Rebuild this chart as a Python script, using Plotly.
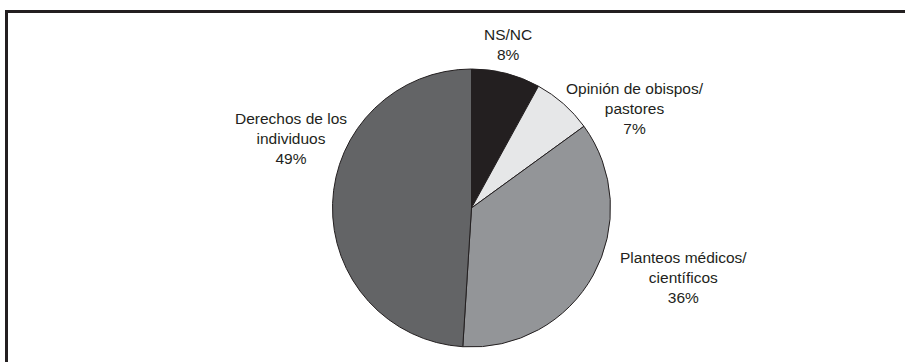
import plotly.graph_objects as go

# Survey shares, clockwise from 12 o'clock
categories = ["NS/NC", "Opinión de obispos/<br>pastores",
              "Planteos médicos/<br>científicos", "Derechos de los<br>individuos"]
values = [8, 7, 36, 49]
colors = ["#231f20", "#e6e7e8", "#939598", "#636466"]

# Label block centers (pixels in the 905x362 canvas)
label_x = [508, 635, 683.5, 291]
label_y = [44.5, 108, 277, 138]

W, H = 905, 362
cx, cy, r = 471.5, 208, 139

fig = go.Figure(go.Pie(
    labels=categories,
    values=values,
    sort=False,
    direction="clockwise",
    rotation=0,
    marker=dict(colors=colors, line=dict(color="#231f20", width=1)),
    textinfo="none",
    hoverinfo="label+percent",
    showlegend=False,
    domain=dict(x=[(cx - r) / W, (cx + r) / W],
                y=[1 - (cy + r) / H, 1 - (cy - r) / H]),
))

for cat, val, x, y in zip(categories, values, label_x, label_y):
    fig.add_annotation(
        x=x / W, y=1 - y / H, xref="paper", yref="paper",
        text=f"{cat}<br>{val}%", showarrow=False,
        xanchor="center", yanchor="middle", align="center",
        font=dict(family="Liberation Sans, Arial, sans-serif", size=15.5, color="#231f20"),
    )

# Frame around the chart (right and bottom edges run off the canvas)
fig.add_shape(type="rect", xref="paper", yref="paper",
              x0=6.5 / W, x1=1.05, y0=-0.05, y1=1 - 11.5 / H,
              line=dict(color="#231f20", width=3), fillcolor="rgba(0,0,0,0)")

fig.update_layout(
    width=W, height=H,
    margin=dict(l=0, r=0, t=0, b=0),
    paper_bgcolor="white", plot_bgcolor="white",
)

fig.write_html("out.html")
